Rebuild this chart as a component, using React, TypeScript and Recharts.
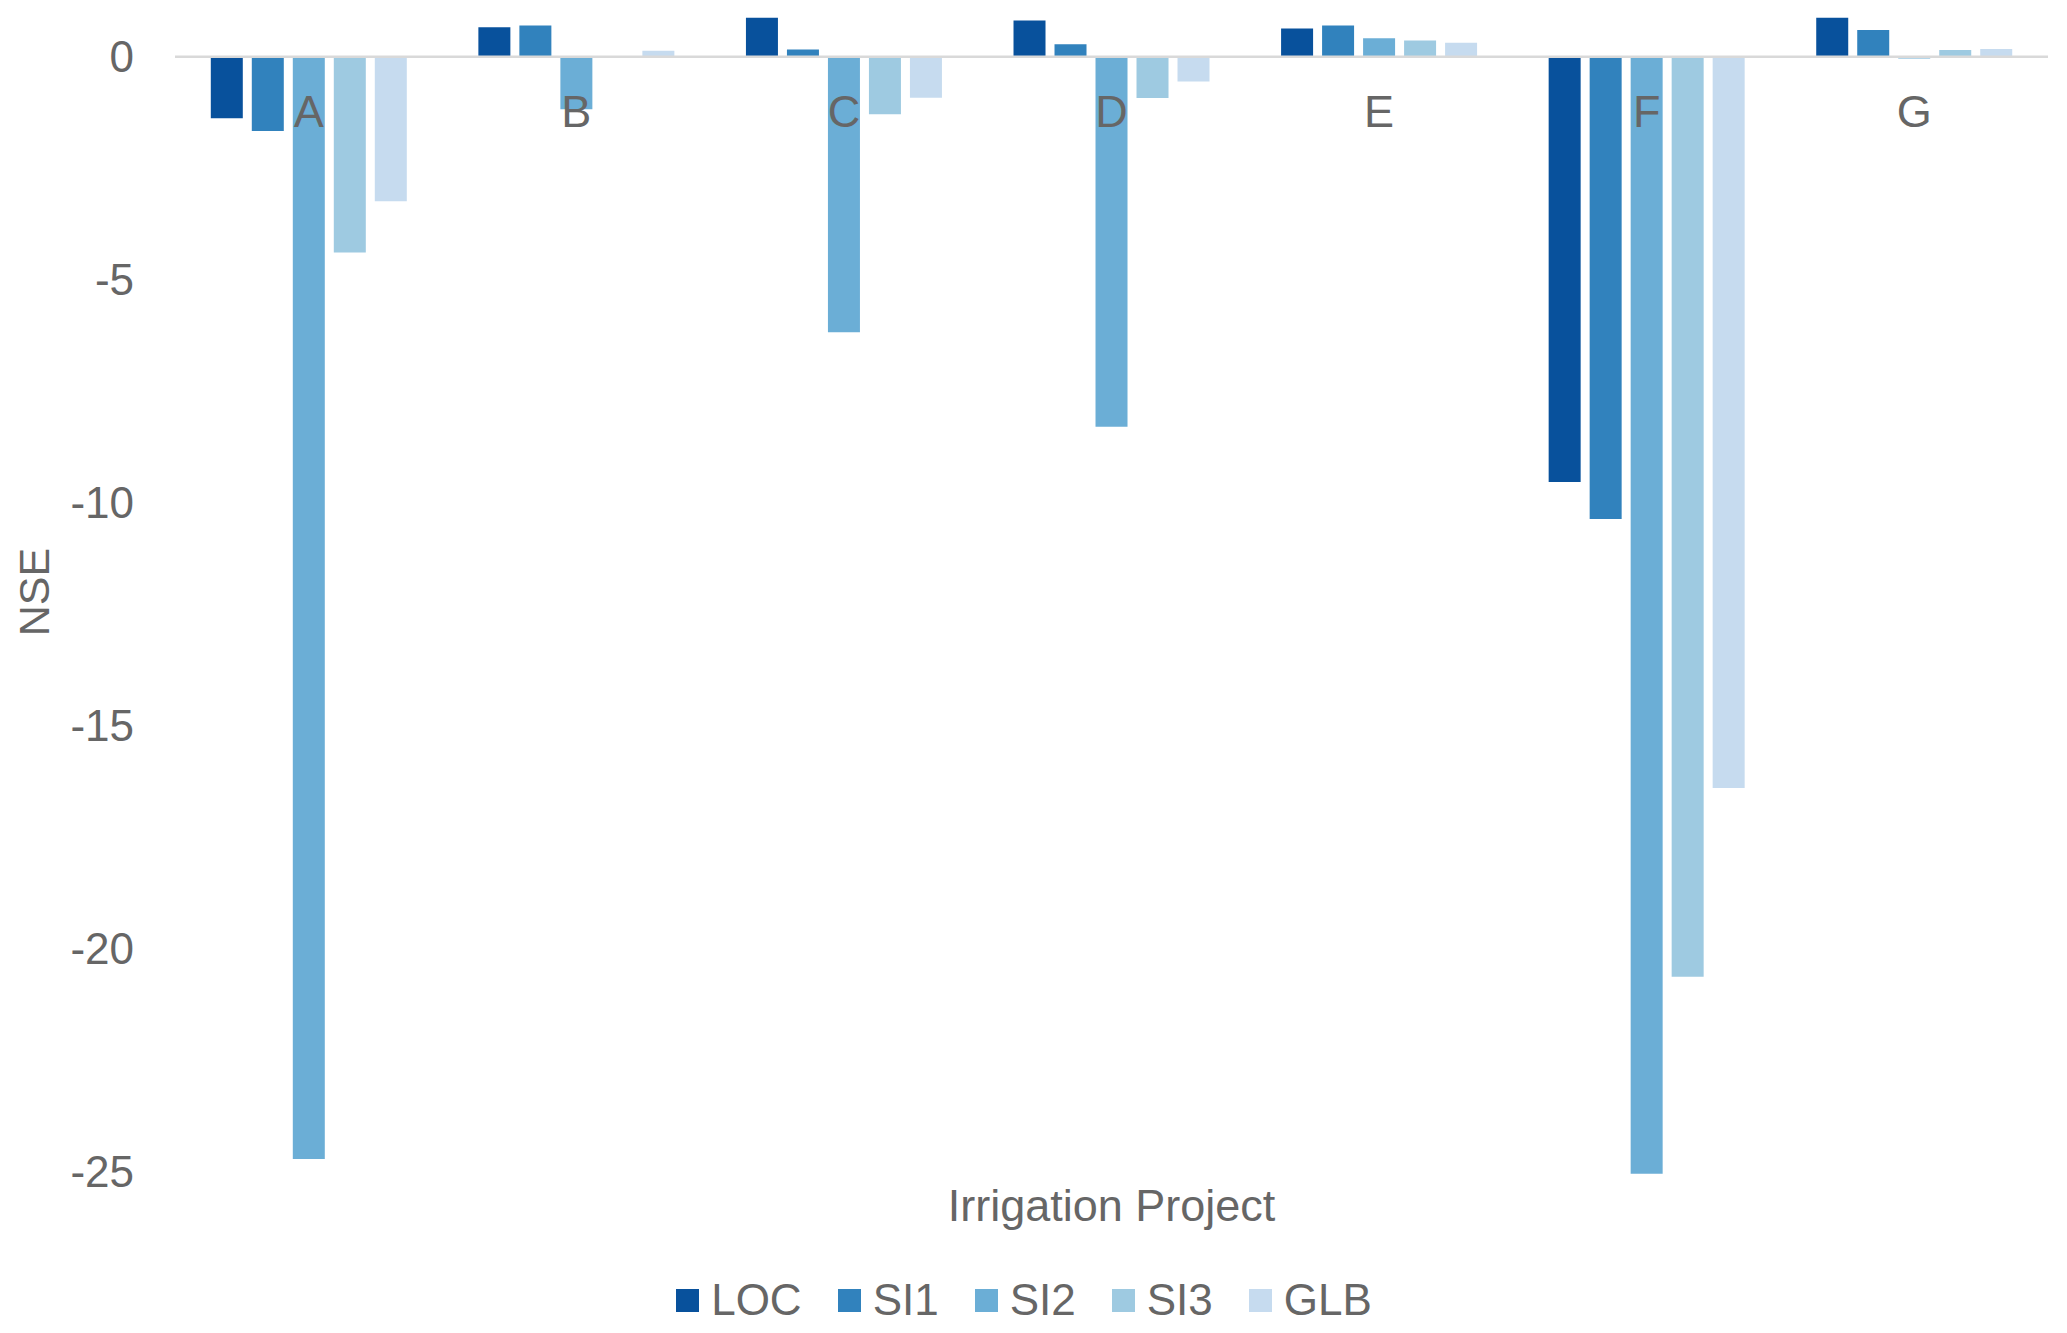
import { BarChart, Bar, XAxis, YAxis, ReferenceLine, Legend, Label } from 'recharts';

// Irrigation projects on the category axis
const projects = ['A', 'B', 'C', 'D', 'E', 'F', 'G'];

// NSE per project for each model run
const loc = [-1.38, 0.66, 0.87, 0.81, 0.63, -9.54, 0.87];
const si1 = [-1.67, 0.7, 0.16, 0.28, 0.7, -10.37, 0.6];
const si2 = [-24.72, -1.18, -6.18, -8.3, 0.41, -25.05, -0.04];
const si3 = [-4.39, 0, -1.29, -0.93, 0.36, -20.63, 0.15];
const glb = [-3.24, 0.13, -0.92, -0.56, 0.31, -16.4, 0.17];

const yTicks = [-25, -20, -15, -10, -5, 0];

const SERIES = [
  { key: 'LOC', values: loc, color: '#08519c' },
  { key: 'SI1', values: si1, color: '#3182bd' },
  { key: 'SI2', values: si2, color: '#6baed6' },
  { key: 'SI3', values: si3, color: '#9ecae1' },
  { key: 'GLB', values: glb, color: '#c6dbef' },
];

const data = projects.map((name, i) => {
  const row: Record<string, string | number> = { name };
  SERIES.forEach((s) => (row[s.key] = s.values[i]));
  return row;
});

const W = 2067;
const H = 1333;
const Y_MIN = -25.1;
const Y_MAX = 1.27;
const XAXIS_H = 57;
const LEGEND_H = 100;
const PLOT_H = H - XAXIS_H - LEGEND_H;
const ZERO_Y = (PLOT_H * Y_MAX) / (Y_MAX - Y_MIN);

const FONT = '"Liberation Sans", Arial, sans-serif';
const GREY = '#666666';

// category labels sit just under the zero line, like Excel's "next to axis"
function ProjectTick({ x, payload }: any) {
  return (
    <text x={x} y={ZERO_Y + 70} textAnchor="middle" fill={GREY} fontSize={45} fontFamily={FONT}>
      {payload.value}
    </text>
  );
}

// legend keeps the series order (recharts sorts its payload by name)
function LegendRow() {
  return (
    <div
      style={{
        height: LEGEND_H,
        boxSizing: 'border-box',
        paddingTop: 34,
        display: 'flex',
        justifyContent: 'center',
        alignItems: 'center',
        fontFamily: FONT,
        fontSize: 44,
        color: GREY,
      }}
    >
      {SERIES.map((s, i) => (
        <div key={s.key} style={{ display: 'flex', alignItems: 'center', marginLeft: i ? 36 : 0 }}>
          <span style={{ width: 23, height: 23, background: s.color, display: 'inline-block', marginRight: 12 }} />
          <span style={{ height: 66, lineHeight: '66px', display: 'flex', alignItems: 'center' }}>{s.key}</span>
        </div>
      ))}
    </div>
  );
}

export default function App() {
  return (
    <div style={{ width: W, height: H, background: '#fff' }}>
      <style>{'body{margin:0}'}</style>
      <BarChart
        width={W}
        height={H}
        data={data}
        margin={{ top: 0, right: 19, bottom: 0, left: 0 }}
        barCategoryGap={35.8}
        barGap={9}
      >
        <XAxis
          dataKey="name"
          axisLine={false}
          tickLine={false}
          height={XAXIS_H}
          tick={<ProjectTick />}
          interval={0}
        >
          <Label
            content={({ viewBox }: any) => (
              <text
                x={viewBox.x + viewBox.width / 2}
                y={viewBox.y + 45}
                textAnchor="middle"
                fill={GREY}
                fontSize={45}
                fontFamily={FONT}
              >
                Irrigation Project
              </text>
            )}
          />
        </XAxis>
        <YAxis
          type="number"
          domain={[Y_MIN, Y_MAX]}
          ticks={yTicks}
          allowDataOverflow
          width={175}
          axisLine={false}
          tickLine={false}
          tickSize={0}
          tickMargin={41}
          tick={{ fill: GREY, fontSize: 44, fontFamily: FONT }}
        >
          <Label
            content={({ viewBox }: any) => {
              const cx = viewBox.x + 34;
              const cy = viewBox.y + viewBox.height / 2 + 4;
              return (
                <text
                  x={cx}
                  y={cy}
                  transform={`rotate(-90 ${cx} ${cy})`}
                  textAnchor="middle"
                  dominantBaseline="central"
                  fill={GREY}
                  fontSize={43}
                  fontFamily={FONT}
                >
                  NSE
                </text>
              );
            }}
          />
        </YAxis>
        <ReferenceLine y={0} stroke="#d9d9d9" strokeWidth={2.5} />
        {SERIES.map((s) => (
          <Bar key={s.key} dataKey={s.key} fill={s.color} isAnimationActive={false} />
        ))}
        <Legend verticalAlign="bottom" height={LEGEND_H} content={<LegendRow />} />
      </BarChart>
    </div>
  );
}
